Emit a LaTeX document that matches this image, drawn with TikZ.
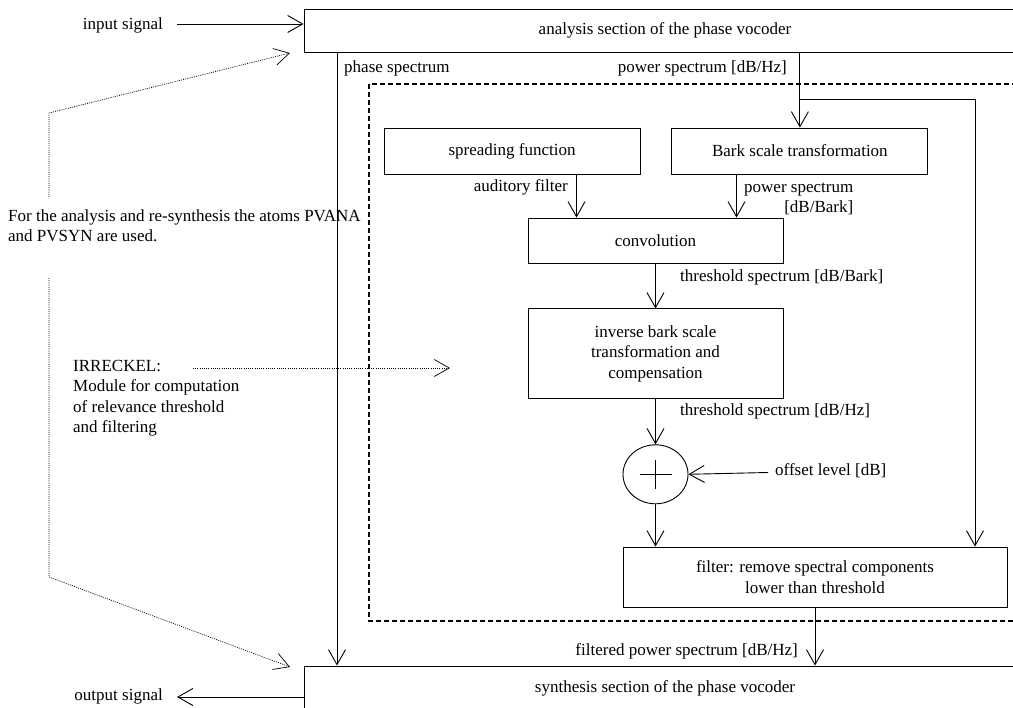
\documentclass[tikz,border=0pt]{standalone}
\usepackage{fontspec}
\setmainfont{Liberation Serif}
\usetikzlibrary{arrows.meta, positioning, shapes.geometric}

\begin{document}
\begin{tikzpicture}[x=1pt, y=-1pt,
  font=\fontsize{17}{20.5}\selectfont,
  box/.style={rectangle, draw=black, line width=0.9pt, align=center, inner sep=0pt},
  sumnode/.style={ellipse, draw=black, line width=0.9pt, inner sep=0pt,
              minimum width=65pt, minimum height=59pt},
  arr/.style={-{Straight Barb[length=15pt, width=17pt]}, line width=0.9pt},
  dotarr/.style={-{Straight Barb[length=15pt, width=17pt]}, line width=0.7pt,
              dash pattern=on 1pt off 1.2pt},
  dashbox/.style={line width=1.8pt, dash pattern=on 5pt off 3pt},
  lbl/.style={inner sep=0pt}
]
\useasboundingbox (0,0) rectangle (1013,708);
\clip (0,0) rectangle (1013,708);

% vocoder sections
\node[box, minimum width=722pt, minimum height=43pt] (ana) at (665,30.5) {analysis section of the phase vocoder};
\node[box, minimum width=722pt, minimum height=44pt] (syn) at (665,688) {synthesis section of the phase vocoder};

% IRRECKEL module
\draw[dashbox] (369,84) rectangle (1040,621);

\node[box, minimum width=256pt, minimum height=46pt] (spread) at (512,151) {spreading function};
\node[box, minimum width=256pt, minimum height=46pt, right=31pt of spread] (bark) {Bark scale transformation};
\node[box, minimum width=255pt, minimum height=45pt] (conv) at (655.5,240.5) {convolution};
\node[box, minimum width=255pt, minimum height=90pt, below=45pt of conv] (inv)
  {inverse bark scale\\transformation and\\compensation};
\node[sumnode, below=45pt of inv] (plus) {};
\node[box, minimum width=384pt, minimum height=60pt] (filt) at (815,577)
  {filter: remove spectral components\\lower than threshold};

\draw[line width=0.9pt] ([xshift=-16pt]plus.center) -- ([xshift=16pt]plus.center);
\draw[line width=0.9pt] ([yshift=-14.5pt]plus.center) -- ([yshift=14.5pt]plus.center);

\coordinate (insig)  at (177,24);
\coordinate (outsig) at (177,697);
\coordinate (ph)     at (337,0);
\coordinate (br)     at (799,99);
\coordinate (rt)     at (975,0);
\coordinate (af)     at (576.5,0);
\coordinate (pb)     at (736.5,0);
\coordinate (off)    at (768,472.5);

\draw[arr] (insig) -- (insig -| ana.west);
\draw[arr] (outsig -| syn.west) -- (outsig);
\draw[arr] (ph |- ana.south) -- (ph |- syn.north);
\draw[arr] (bark.north |- ana.south) -- (bark.north);
\draw[arr] (br) -| (rt |- filt.north);
\draw[arr] (af |- spread.south) -- (af |- conv.north);
\draw[arr] (pb |- bark.south) -- (pb |- conv.north);
\draw[arr] (conv.south) -- (inv.north);
\draw[arr] (inv.south) -- (plus.north);
\draw[arr] (plus.south) -- (plus.south |- filt.north);
\draw[arr] (off) -- (plus.east);
\draw[arr] (filt.south) -- (filt.south |- syn.north);

% labels
\node[lbl, anchor=base east] (lin)  at (163,30) {input signal};
\node[lbl, anchor=base east] (lout) at (163,700) {output signal};
\node[lbl, anchor=base west] (lph)  at (344,73) {phase spectrum};
\node[lbl, anchor=base east] (lpw)  at (787,73) {power spectrum [dB/Hz]};
\node[lbl, anchor=base east] (laf)  at (568,192) {auditory filter};
\node[lbl, anchor=base west, align=right] (lpb) at (744,213) {power spectrum\\{}[dB/Bark]};
\node[lbl, anchor=base west] (lthb) at (680,282) {threshold spectrum [dB/Bark]};
\node[lbl, anchor=base west] (lthh) at (680,416) {threshold spectrum [dB/Hz]};
\node[lbl, anchor=base west] (loff) at (775,476) {offset level [dB]};
\node[lbl, anchor=base east] (lfp)  at (798,655) {filtered power spectrum [dB/Hz]};

% notes
\node[lbl, anchor=base west, align=left] (atoms) at (8,242)
  {For the analysis and re-synthesis the atoms PVANA\\and PVSYN are used.};
\node[lbl, anchor=base west, align=left] (irr) at (73,433)
  {IRRECKEL:\\Module for computation\\of relevance threshold\\and filtering};

\coordinate (d1) at (49,113);
\coordinate (d2) at (49,197);
\coordinate (d3) at (49,278);
\coordinate (d4) at (49,577);
\coordinate (tipin)  at (290,53);
\coordinate (tipout) at (290,667);
\coordinate (irrs) at (193,368);
\coordinate (irrt) at (450,368);

\draw[dotarr] (d2) -- (d1) -- (tipin);
\draw[dotarr] (d3) -- (d4) -- (tipout);
\draw[dotarr] (irrs) -- (irrt);

\end{tikzpicture}
\end{document}
